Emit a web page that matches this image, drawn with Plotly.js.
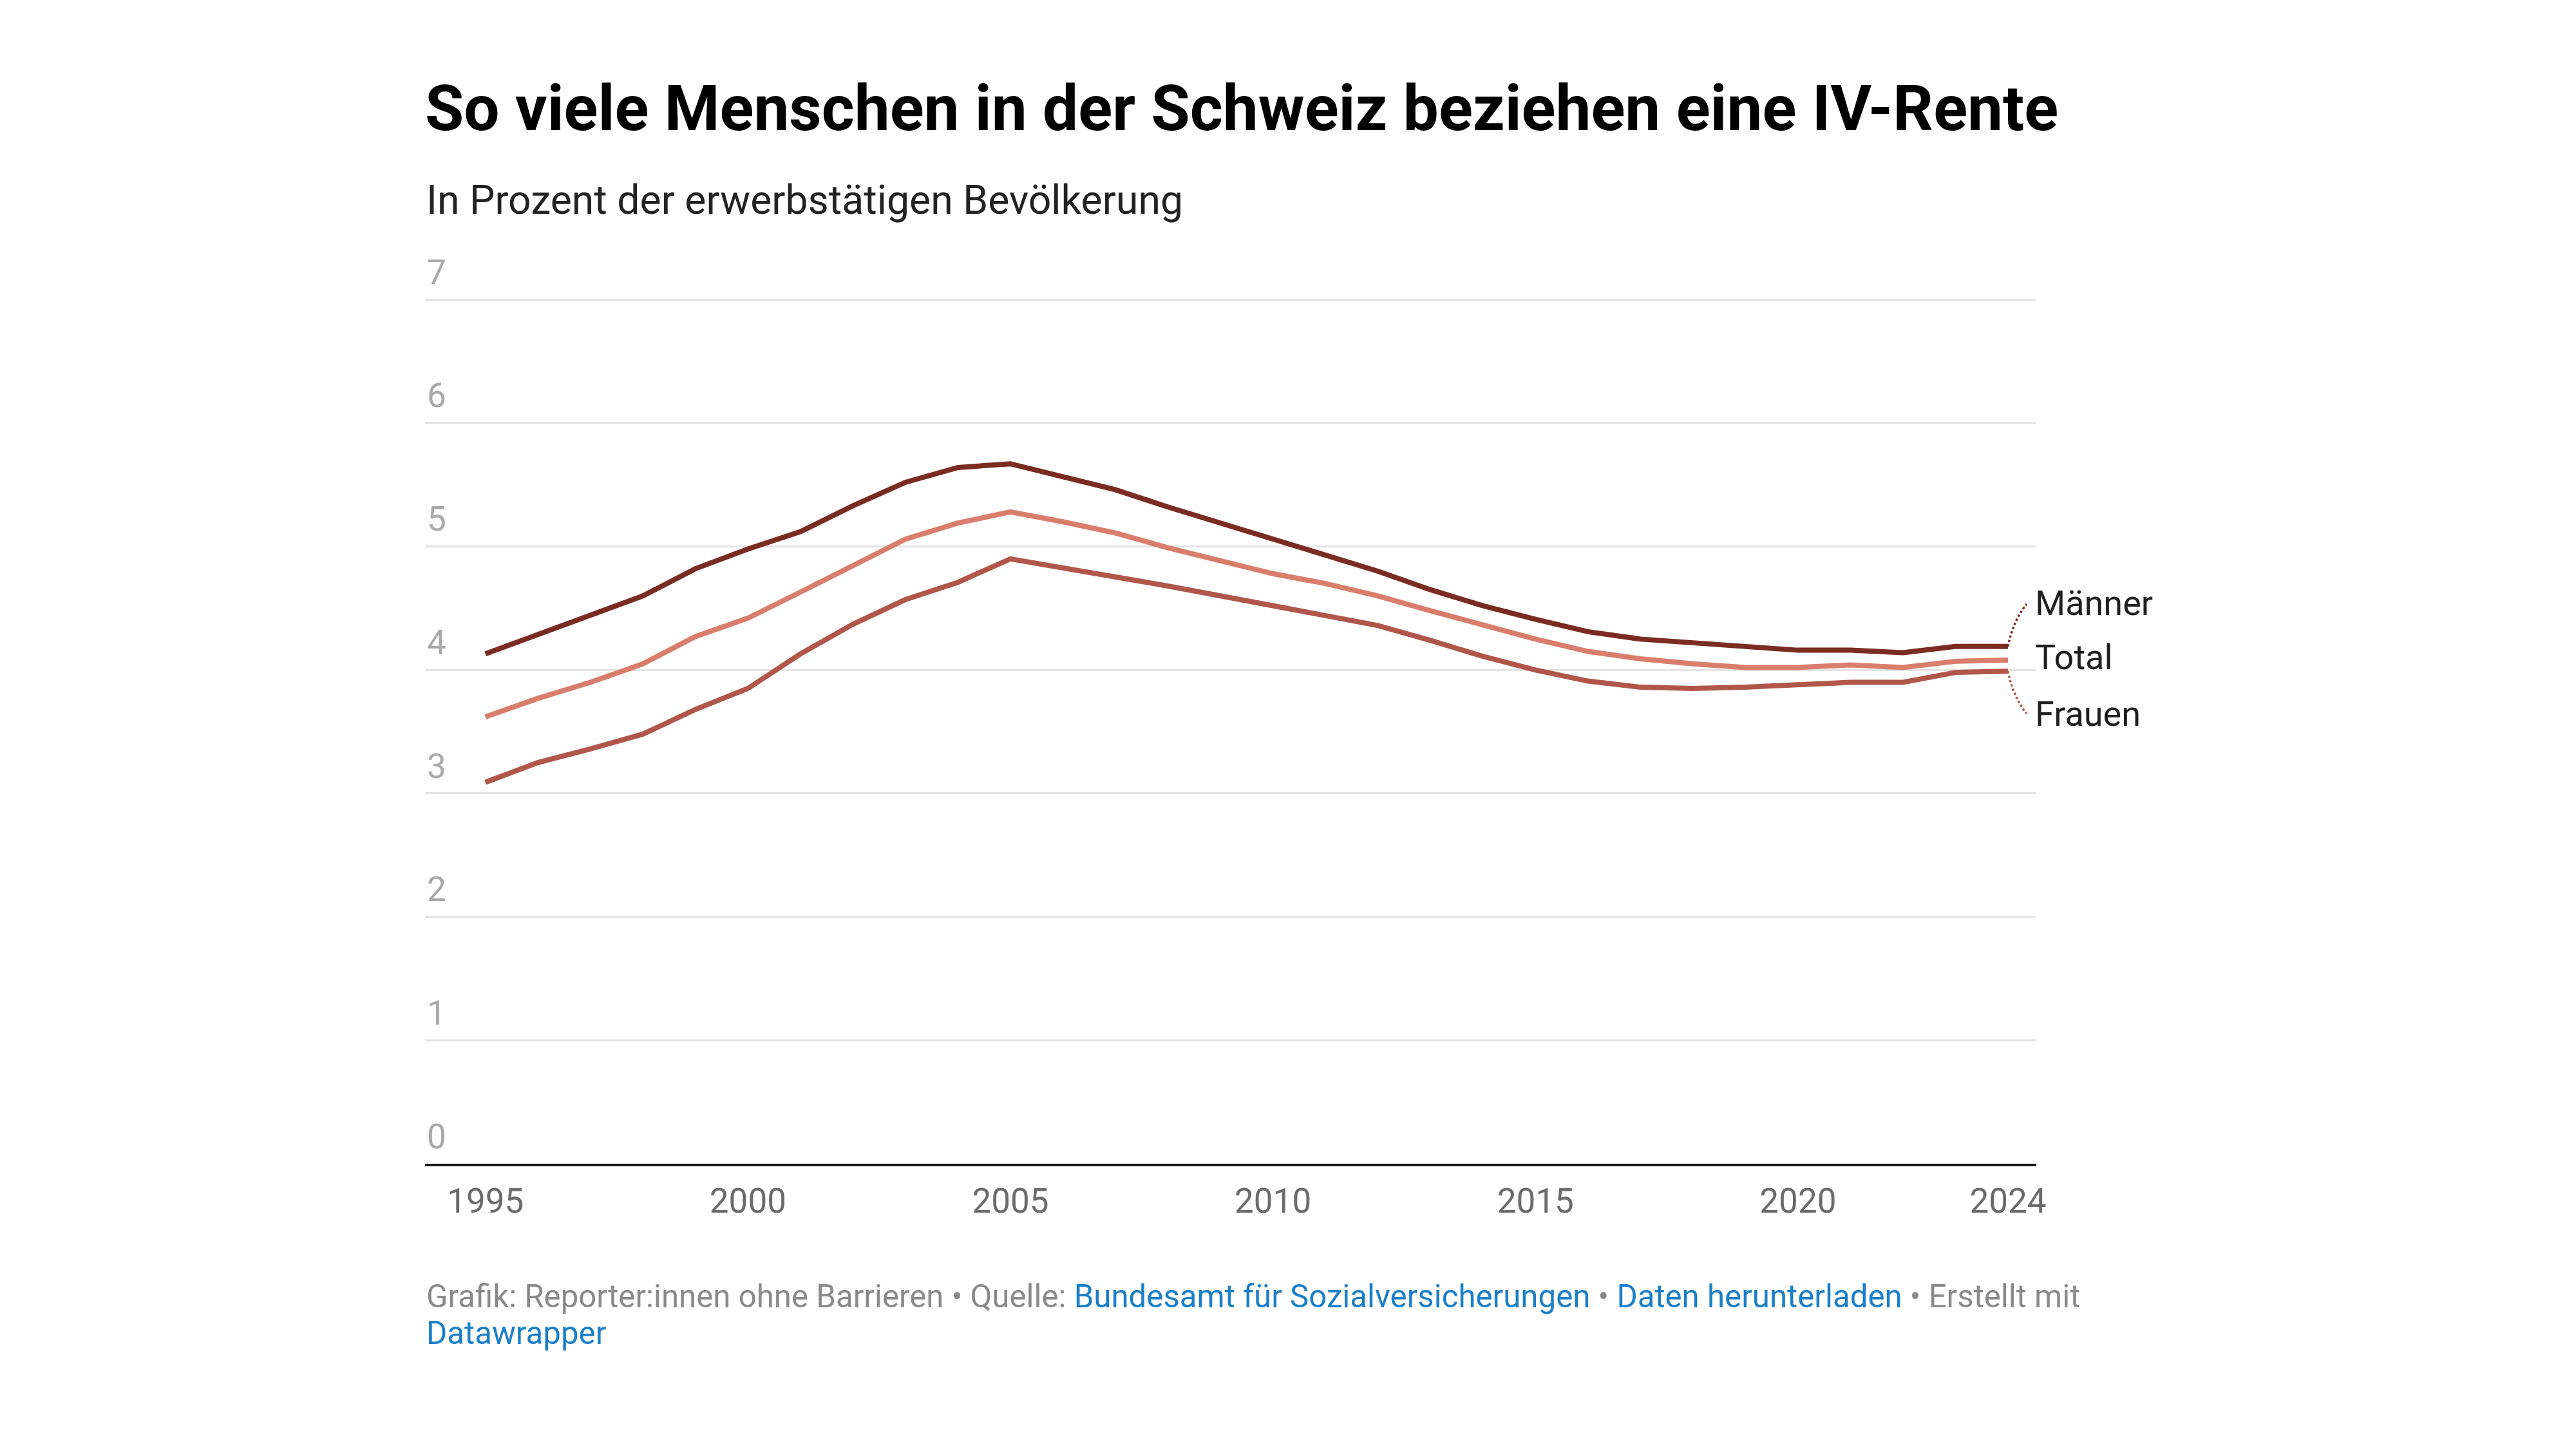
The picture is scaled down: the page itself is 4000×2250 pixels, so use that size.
<!DOCTYPE html>
<html>
<head>
<meta charset="utf-8">
<script src="https://cdn.plot.ly/plotly-3.0.1.min.js"></script>
<style>
  html, body { margin: 0; padding: 0; background: #ffffff; }
  #chart { width: 4000px; height: 2250px; }
</style>
</head>
<body>
<div id="chart"></div>
<script>
const years = [1995,1996,1997,1998,1999,2000,2001,2002,2003,2004,2005,2006,2007,2008,2009,2010,2011,2012,2013,2014,2015,2016,2017,2018,2019,2020,2021,2022,2023,2024];
const maenner = [4.13,4.29,4.44,4.60,4.82,4.98,5.12,5.33,5.52,5.64,5.67,5.57,5.46,5.32,5.19,5.05,4.93,4.80,4.65,4.52,4.41,4.31,4.25,4.22,4.19,4.16,4.16,4.14,4.19,4.19];
const total = [3.62,3.77,3.90,4.05,4.27,4.42,4.63,4.84,5.06,5.19,5.28,5.20,5.11,4.99,4.88,4.78,4.70,4.60,4.48,4.36,4.25,4.15,4.09,4.05,4.02,4.02,4.04,4.02,4.07,4.08];
const frauen = [3.09,3.25,3.36,3.48,3.68,3.85,4.13,4.37,4.57,4.71,4.90,4.83,4.75,4.68,4.60,4.52,4.45,4.36,4.24,4.11,4.00,3.91,3.86,3.85,3.86,3.88,3.90,3.90,3.98,3.99];
const seriesNames = ["Männer", "Total", "Frauen"];
const xTickVals = [1995, 2000, 2005, 2010, 2015, 2020, 2024];
const xTickText = ["1995", "2000", "2005", "2010", "2015", "2020", "2024"];
const yTickVals = [0, 1, 2, 3, 4, 5, 6, 7];

const colors = { "Männer": "#7b2c22", "Total": "#d97e6c", "Frauen": "#b0574a" };
const seriesData = { "Männer": maenner, "Total": total, "Frauen": frauen };
const FONT = "Roboto, 'Open Sans', sans-serif";

const traces = ["Total", "Frauen", "Männer"].map(name => ({
  type: "scatter",
  mode: "lines",
  x: years,
  y: seriesData[name],
  name: name,
  line: { color: colors[name], width: 8 },
  hoverinfo: "skip",
  showlegend: false
}));

const lastYear = years[years.length - 1];
const last = name => seriesData[name][seriesData[name].length - 1];

const labelShift = { "Männer": 67, "Total": 4, "Frauen": -66 };
const labelAnnotations = seriesNames.map(name => ({
  x: lastYear, y: last(name), xref: "x", yref: "y",
  xanchor: "left", yanchor: "middle",
  xshift: 40, yshift: labelShift[name],
  text: name, showarrow: false,
  font: { family: FONT, size: 54, color: "#1f1f1f" }
}));

const connectorShapes = [
  { name: "Männer", path: "M0,0 Q8,40 29,66" },
  { name: "Frauen", path: "M0,0 Q8,-40 29,-66" }
].map(c => ({
  type: "path",
  xref: "x", yref: "y",
  xsizemode: "pixel", ysizemode: "pixel",
  xanchor: lastYear, yanchor: last(c.name),
  path: c.path,
  line: { color: colors[c.name], width: 3.5, dash: "dot" }
}));

const footerGray = "#8a8a8a";
const linkBlue = "#1a7fc9";
const footer1 = "Grafik: Reporter:innen ohne Barrieren • Quelle: <span style='color:" + linkBlue + "'>Bundesamt für Sozialversicherungen</span> • <span style='color:" + linkBlue + "'>Daten herunterladen</span> • Erstellt mit";
const footer2 = "<span style='color:" + linkBlue + "'>Datawrapper</span>";

const PLOT_BOTTOM = 1807, PLOT_TOP = 379, PLOT_H = PLOT_BOTTOM - PLOT_TOP;

const layout = {
  width: 4000, height: 2250,
  paper_bgcolor: "#ffffff", plot_bgcolor: "#ffffff",
  margin: { l: 660, r: 838, t: PLOT_TOP, b: 2250 - PLOT_BOTTOM, pad: 0 },
  title: {
    text: "<b>So viele Menschen in der Schweiz beziehen eine IV-Rente</b>",
    font: { family: FONT, size: 98, color: "#000000", weight: 700 },
    xref: "container", yref: "container",
    x: 660 / 4000, xanchor: "left",
    y: 1 - 133 / 2250, yanchor: "top",
    pad: { t: 0, b: 0, l: 0, r: 0 }
  },
  xaxis: {
    range: [1993.85, 2024.54],
    tickvals: xTickVals, ticktext: xTickText,
    showgrid: false, zeroline: false,
    showline: true, linecolor: "#1a1a1a", linewidth: 4,
    ticks: "", ticklabelstandoff: 8,
    tickfont: { family: FONT, size: 53, color: "#6b6b6b" },
    fixedrange: true
  },
  yaxis: {
    range: [0, 7.45],
    tickvals: yTickVals,
    showgrid: true, gridcolor: "#e4e4e4", gridwidth: 3,
    zeroline: false, showline: false,
    ticks: "",
    ticklabelposition: "inside",
    ticklabelshift: -43,
    ticklabelstandoff: 0,
    tickfont: { family: FONT, size: 53, color: "#a9a9a9" },
    fixedrange: true
  },
  showlegend: false,
  shapes: connectorShapes,
  annotations: [
    {
      xref: "paper", yref: "paper", x: 0, y: (PLOT_BOTTOM - 272) / PLOT_H,
      xanchor: "left", yanchor: "top", showarrow: false,
      text: "In Prozent der erwerbstätigen Bevölkerung",
      font: { family: FONT, size: 62.5, color: "#222222" }
    },
    {
      xref: "paper", yref: "paper", x: 0, y: (PLOT_BOTTOM - 1982) / PLOT_H,
      xanchor: "left", yanchor: "top", showarrow: false,
      text: footer1,
      font: { family: FONT, size: 49.2, color: footerGray }
    },
    {
      xref: "paper", yref: "paper", x: 0, y: (PLOT_BOTTOM - 2039) / PLOT_H,
      xanchor: "left", yanchor: "top", showarrow: false,
      text: footer2,
      font: { family: FONT, size: 49.2, color: footerGray }
    }
  ].concat(labelAnnotations)
};

Plotly.newPlot("chart", traces, layout, { displayModeBar: false, staticPlot: true });
</script>
</body>
</html>
